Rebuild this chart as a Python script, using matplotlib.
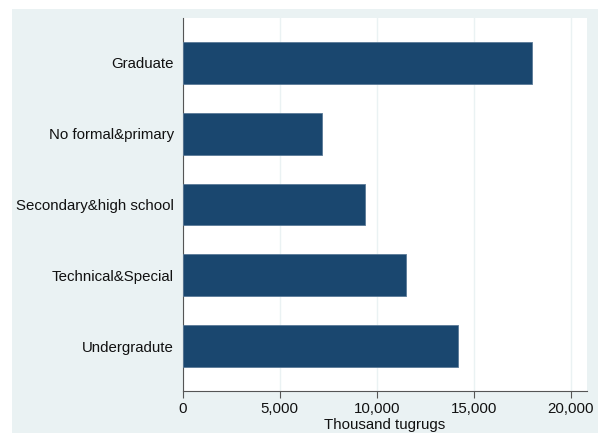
import matplotlib
matplotlib.use("Agg")
import matplotlib.pyplot as plt
import matplotlib.transforms as mtransforms
from matplotlib.patches import Rectangle
from matplotlib.ticker import FuncFormatter

categories = ["Graduate", "No formal&primary", "Secondary&high school",
              "Technical&Special", "Undergradute"]
values = [18000, 7200, 9400, 11500, 14200]
xticks = [0, 5000, 10000, 15000, 20000]

plt.rcParams['font.family'] = ['Liberation Sans', 'DejaVu Sans']

W, H = 598, 433
fig = plt.figure(figsize=(W / 100, H / 100), dpi=100)
fig.patch.set_facecolor('white')
bg = '#eaf2f3'
fig.patches.append(Rectangle((12 / W, 0), 1 - 12 / W, 1 - 9 / H,
                             transform=fig.transFigure, facecolor=bg,
                             edgecolor='none', zorder=-10))

left, right, top, bottom = 182.7, 587, 18, 391
ax = fig.add_axes([left / W, 1 - bottom / H, (right - left) / W, (bottom - top) / H])
ax.set_facecolor('white')

fs = 10.8
pos = list(range(len(categories)))
ax.barh(pos, values, height=0.59, color='#1a476f', edgecolor='#5a7a98',
        linewidth=0.6, zorder=3)
ax.set_yticks(pos)
ax.set_yticklabels(categories, fontsize=fs, color='#111111')
offset = mtransforms.ScaledTranslation(0, -2.5 / 100, fig.dpi_scale_trans)
for lbl in ax.get_yticklabels():
    lbl.set_transform(lbl.get_transform() + offset)
ax.set_ylim(4.63, -0.63)
ax.set_xlim(0, 20830)
ax.set_xticks(xticks)
ax.xaxis.set_major_formatter(FuncFormatter(lambda v, p: f"{int(v):,}"))
ax.tick_params(axis='x', labelsize=fs, length=5, width=0.8, color='#555555',
               pad=3, labelcolor='#111111')
ax.tick_params(axis='y', length=0, pad=6.5)
ax.grid(axis='x', color=bg, linewidth=1.0, zorder=0)
ax.set_axisbelow(True)
for s in ['top', 'right']:
    ax.spines[s].set_visible(False)
for s in ['left', 'bottom']:
    ax.spines[s].set_color('#555555')
    ax.spines[s].set_linewidth(0.8)
ax.set_xlabel("Thousand tugrugs", fontsize=fs, color='#111111', labelpad=1)

fig.savefig("out.png", dpi=100, facecolor=fig.get_facecolor())
